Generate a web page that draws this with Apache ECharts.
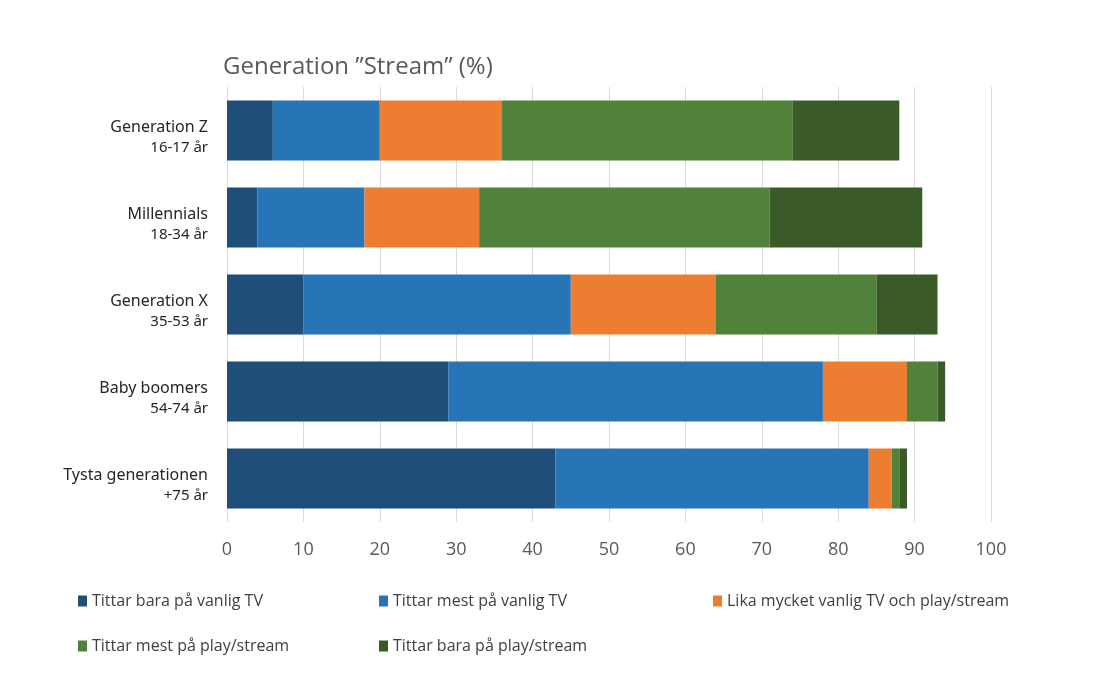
<!DOCTYPE html>
<html>
<head>
<meta charset="utf-8">
<script src="https://cdn.jsdelivr.net/npm/echarts@6/dist/echarts.min.js"></script>
<style>
  html, body { margin: 0; padding: 0; background: #ffffff; }
  #chart { width: 1100px; height: 698px; }
</style>
</head>
<body>
<div id="chart"></div>
<script>
// Generations (top to bottom) and their age ranges
const generations = ['Generation Z', 'Millennials', 'Generation X', 'Baby boomers', 'Tysta generationen'];
const ages = ['16-17 år', '18-34 år', '35-53 år', '54-74 år', '+75 år'];

// Share of each viewing habit per generation (%)
const onlyTv       = [6, 4, 10, 29, 43];
const mostlyTv     = [14, 14, 35, 49, 41];
const equally      = [16, 15, 19, 11, 3];
const mostlyStream = [38, 38, 21, 4, 1];
const onlyStream   = [14, 20, 8, 1, 1];

const seriesNames = [
  'Tittar bara på vanlig TV',
  'Tittar mest på vanlig TV',
  'Lika mycket vanlig TV och play/stream',
  'Tittar mest på play/stream',
  'Tittar bara på play/stream'
];
const seriesData = [onlyTv, mostlyTv, equally, mostlyStream, onlyStream];
const colors = ['#1f4e79', '#2774b6', '#ed7d31', '#518239', '#3a5a27'];

const xTicks = [0, 10, 20, 30, 40, 50, 60, 70, 80, 90, 100];

const chart = echarts.init(document.getElementById('chart'));

const legendBase = {
  orient: 'horizontal',
  itemWidth: 9,
  itemHeight: 11,
  itemGap: 40,
  icon: 'rect',
  textStyle: {
    fontFamily: '"Liberation Sans Narrow", "Open Sans", sans-serif',
    fontSize: 16,
    color: '#404040'
  }
};

chart.setOption({
  animation: false,
  backgroundColor: '#ffffff',
  color: colors,
  title: {
    text: 'Generation ”Stream” (%)',
    left: 218,
    top: 50,
    textStyle: {
      fontFamily: '"Open Sans", sans-serif',
      fontWeight: 'normal',
      fontSize: 24,
      color: '#595959'
    }
  },
  legend: [
    Object.assign({}, legendBase, { data: [seriesNames[0]], left: 73, top: 588 }),
    Object.assign({}, legendBase, { data: [seriesNames[1]], left: 374, top: 588 }),
    Object.assign({}, legendBase, { data: [seriesNames[2]], left: 708, top: 588 }),
    Object.assign({}, legendBase, { data: [seriesNames[3]], left: 73, top: 633 }),
    Object.assign({}, legendBase, { data: [seriesNames[4]], left: 374, top: 633 })
  ],
  grid: {
    left: 227,
    right: 109,
    top: 87,
    bottom: 176,
    containLabel: false
  },
  xAxis: {
    type: 'value',
    min: 0,
    max: 100,
    interval: 10,
    axisLine: { show: false },
    axisTick: { show: false },
    splitLine: { show: true, lineStyle: { color: '#d9d9d9', width: 1 } },
    axisLabel: {
      margin: 19,
      fontFamily: '"Liberation Sans Narrow", "Open Sans", sans-serif',
      fontSize: 18,
      color: '#595959',
      formatter: (v) => xTicks.includes(v) ? String(v) : ''
    }
  },
  yAxis: {
    type: 'category',
    inverse: true,
    data: generations,
    axisLine: { show: false },
    axisTick: { show: false },
    axisLabel: {
      margin: 19,
      align: 'right',
      padding: [14, 0, 0, 0],
      formatter: (v, i) => '{name|' + v + '}\n{age|' + ages[i] + '}',
      rich: {
        name: {
          fontFamily: '"Noto Sans", sans-serif',
          fontSize: 16,
          color: '#262626',
          lineHeight: 20,
          align: 'right'
        },
        age: {
          fontFamily: '"Noto Sans", sans-serif',
          fontSize: 15,
          color: '#262626',
          lineHeight: 20,
          align: 'right'
        }
      }
    }
  },
  series: seriesNames.map((name, i) => ({
    name: name,
    type: 'bar',
    stack: 'total',
    barCategoryGap: '31%',
    data: seriesData[i],
    itemStyle: { color: colors[i] }
  }))
});
</script>
</body>
</html>
